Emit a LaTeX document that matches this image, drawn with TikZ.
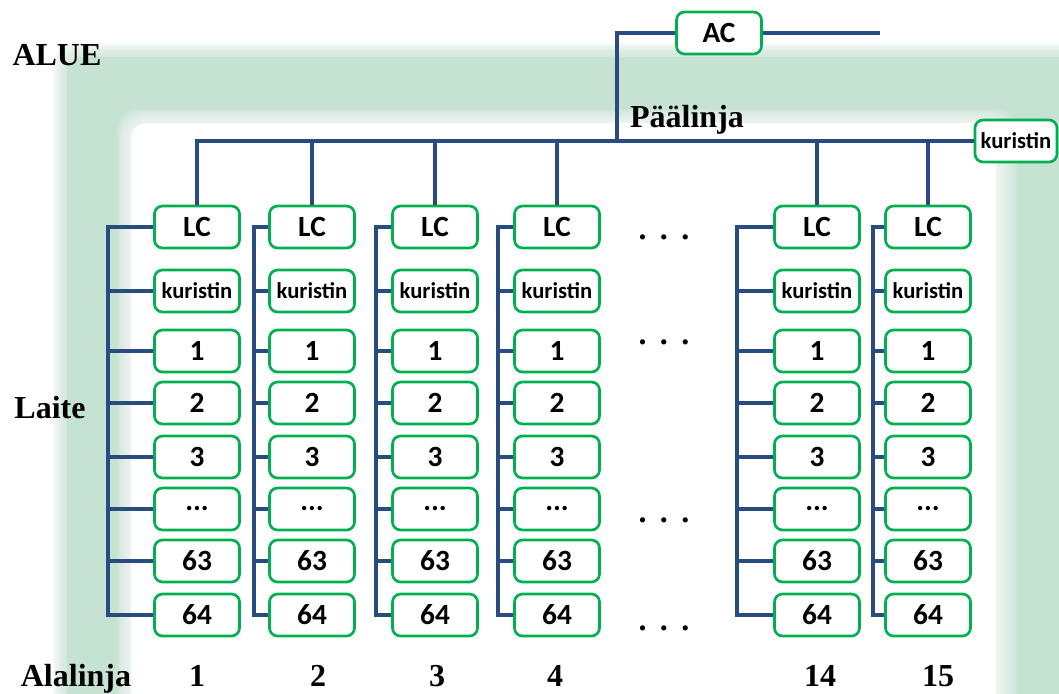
\documentclass[tikz,border=0pt]{standalone}
\usepackage{fontspec}
\setmainfont{Liberation Serif}
\newfontfamily\boxfont{Carlito}
\definecolor{busblue}{RGB}{41,76,128}
\definecolor{boxgreen}{RGB}{0,176,80}
\definecolor{bggreen}{RGB}{198,226,211}
\begin{document}
\begin{tikzpicture}[x=0.75pt,y=-0.75pt,
  dev/.style={draw=boxgreen, line width=2pt, rounded corners=6pt, fill=white,
    minimum width=63.75pt, minimum height=31.5pt, inner sep=0pt,
    font=\boxfont\bfseries\fontsize{22}{22}\selectfont},
  kur/.style={dev, font=\boxfont\bfseries\fontsize{17}{17}\selectfont},
  bus/.style={draw=busblue, line width=3pt},
  lbl/.style={font=\bfseries\fontsize{24}{24}\selectfont, inner sep=0pt, anchor=base},
  dots/.style={font=\bfseries\fontsize{24}{24}\selectfont, inner sep=0pt}]
\useasboundingbox (0,0) rectangle (1059,693);
\fill[white] (0,0) rectangle (1059,693);
\begin{scope}
\clip (0,0) rectangle (1059,693);
% outer green band with soft edge
\foreach \k in {1,...,12} {
  \fill[bggreen, opacity=0.09, rounded corners=16pt] (67-1.2*\k,57-1.2*\k) rectangle (1200,800);
}
\fill[bggreen, rounded corners=12pt] (67,57) rectangle (1200,800);
% inner white area with soft edge
\foreach \k in {1,...,12} {
  \fill[white, opacity=0.1, rounded corners=16pt] (131-1.2*\k,123-1.2*\k) rectangle (996+1.8*\k,800);
}
\fill[white, rounded corners=12pt] (131,123) rectangle (996,800);
\end{scope}

% labels
\node[lbl] (alue) at (57,65) {ALUE};
\node[lbl] (paa) at (687,127) {Päälinja};
\node[lbl] (laite) at (50,418) {Laite};
\node[lbl] (alal) at (76,686) {Alalinja};

% top controllers
\node[dev] (ac) at (719,33) {AC};
\node[kur, minimum width=61.5pt] (kr) at (1016,141) {kuristin};
\coordinate (acbus) at (617,141);
\coordinate (acend) at (880,33);
\draw[bus] (ac.west) -| (acbus);
\draw[bus] (ac.east) -- (acend);

% columns
\foreach \i/\cx/\tx/\lx/\lab in {1/197/108/197/1, 2/312/254/318/2, 3/435/376/437/3, 4/557/498/555/4, 5/817/737/820/14, 6/928/873/938/15} {
  \node[dev] (lc\i) at (\cx,227) {LC};
  \node[kur] (ku\i) at (\cx,291) {kuristin};
  \node[dev] (da\i) at (\cx,351) {1};
  \node[dev] (db\i) at (\cx,403) {2};
  \node[dev] (dc\i) at (\cx,457) {3};
  \node[dev] (dd\i) at (\cx,509) {...};
  \node[dev] (de\i) at (\cx,561) {63};
  \node[dev] (df\i) at (\cx,615) {64};
  \coordinate (tt\i) at (\tx,227);
  \coordinate (tb\i) at (\tx,615);
  \draw[bus] (lc\i.west) -- (tt\i) -- (tb\i) -- (df\i.west);
  \foreach \r in {ku,da,db,dc,dd,de} {
    \draw[bus] (\r\i.west -| tt\i) -- (\r\i.west);
  }
  \node[lbl] (num\i) at (\lx,686) {\lab};
}

% main line
\draw[bus] (lc1.north) |- (kr.west);
\foreach \i in {2,...,6} {
  \draw[bus] (lc\i.north) -- (lc\i.north |- kr.west);
}

% dots
\node[dots] (dt1) at (664,237) {.\hspace{10pt}.\hspace{10pt}.};
\node[dots] (dt2) at (664,342) {.\hspace{10pt}.\hspace{10pt}.};
\node[dots] (dt3) at (664,520) {.\hspace{10pt}.\hspace{10pt}.};
\node[dots] (dt4) at (664,628) {.\hspace{10pt}.\hspace{10pt}.};
\end{tikzpicture}
\end{document}
